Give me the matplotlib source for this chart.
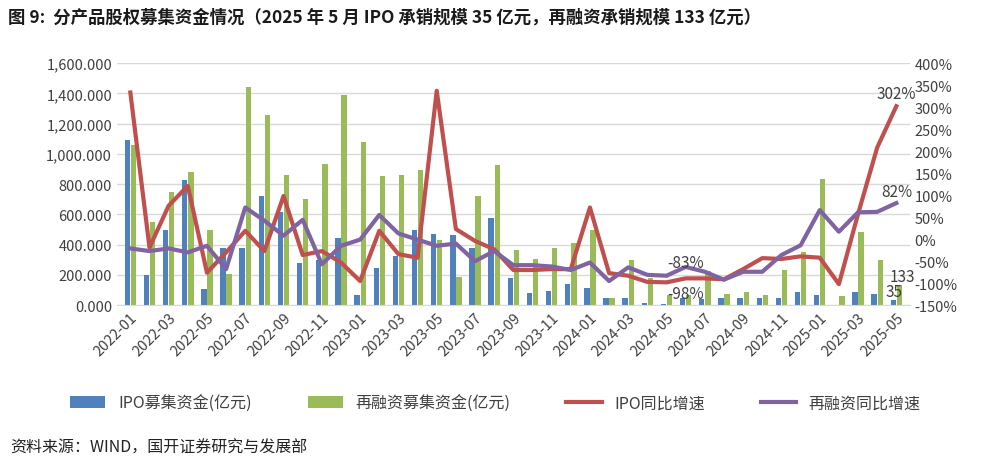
import matplotlib
matplotlib.use("Agg")
import matplotlib.pyplot as plt
import numpy as np

plt.rcParams['font.family'] = ['Noto Sans CJK SC', 'DejaVu Sans']

months = [f"{y}-{m:02d}" for y in (2022, 2023, 2024, 2025) for m in range(1, 13)][:41]
ipo = [1091, 200, 496, 828, 106, 375, 381, 723, 619, 278, 300, 441, 66, 245, 324, 496, 471, 465, 377, 573,
       178, 79, 91, 143, 112, 51, 51, 18, 7, 51, 40, 51, 51, 48, 48, 88, 66, 2, 88, 77, 35]
refi = [1060, 551, 749, 877, 500, 205, 1439, 1256, 859, 700, 932, 1390, 1080, 853, 859, 892, 430, 185, 723, 928,
        364, 304, 377, 410, 500, 51, 299, 177, 66, 66, 227, 77, 88, 66, 234, 355, 833, 60, 483, 298, 133]
ipo_yoy = [333, -19, 76, 121, -76, -30, 19, -27, 98, -36, -27, -53, -95, 19, -34, -42, 337, 23, -4, -23,
           -70, -70, -68, -68, 72, -77, -83, -97, -98, -89, -89, -91, -68, -43, -45, -39, -42, -102, 57, 208, 302]
refi_yoy = [-21, -27, -21, -30, -15, -68, 72, 42, 8, 44, -57, -15, -1, 55, 13, -1, -15, -10, -50, -27,
            -59, -59, -62, -70, -53, -95, -64, -81, -83, -63, -74, -92, -74, -74, -36, -14, 66, 17, 61, 62, 82]

fig = plt.figure(figsize=(9.91, 4.64), dpi=100)
ax = fig.add_axes([0.118, 0.34, 0.80, 0.522])
x = np.arange(len(months))
w = 0.28
ax.bar(x - w/2 - 0.02, ipo, w, color='#4F81BD', label='IPO募集资金(亿元)')
ax.bar(x + w/2 + 0.02, refi, w, color='#9BBB59', label='再融资募集资金(亿元)')
ax.set_ylim(0, 1600)
ax.set_yticks(range(0, 1601, 200))
ax.set_yticklabels([f"{v:,.3f}" for v in range(0, 1601, 200)])
ax.yaxis.grid(True, color='#D9D9D9', lw=1)
ax.set_axisbelow(True)
ax.set_xlim(-0.7, len(months) - 0.3)
ax.set_xticks(x[::2])
ax.set_xticklabels(months[::2], rotation=45, ha='right', rotation_mode='anchor')
for s in ['top', 'right', 'left']:
    ax.spines[s].set_visible(False)
ax.spines['bottom'].set_color('#D9D9D9')
ax.tick_params(length=0, labelsize=10.5, colors='#404040')

ax2 = ax.twinx()
ax2.plot(x, ipo_yoy, color='#C0504D', lw=3, label='IPO同比增速')
ax2.plot(x, refi_yoy, color='#8064A2', lw=3, label='再融资同比增速')
ax2.set_ylim(-150, 400)
ax2.set_yticks(range(-150, 401, 50))
ax2.set_yticklabels([f"{v}%" for v in range(-150, 401, 50)])
for s in ax2.spines.values():
    s.set_visible(False)
ax2.tick_params(length=0, labelsize=10.5, colors='#404040')

ax2.text(40, 312, '302%', ha='center', va='bottom', fontsize=11, color='#404040')
ax2.text(40, 90, '82%', ha='center', va='bottom', fontsize=11, color='#404040')
ax2.text(29, -73, '-83%', ha='center', va='bottom', fontsize=11, color='#404040')
ax2.text(29, -103, '-98%', ha='center', va='top', fontsize=11, color='#404040')
ax.text(40.3, 133, '133', ha='center', va='bottom', fontsize=11, color='#404040')
ax.text(39.9, 35, '35', ha='center', va='bottom', fontsize=11, color='#404040')

h1, l1 = ax.get_legend_handles_labels()
h2, l2 = ax2.get_legend_handles_labels()
fig.legend(h1 + h2, l1 + l2, loc='lower center', bbox_to_anchor=(0.5, 0.08), ncol=4, frameon=False,
           fontsize=11.5, handlelength=2.2, columnspacing=3.5, labelcolor='#404040')

fig.text(0.008, 0.963, '图 9:  分产品股权募集资金情况（2025 年 5 月 IPO 承销规模 35 亿元，再融资承销规模 133 亿元）',
         fontsize=12.5, fontweight='bold', color='#1a1a1a', va='center')
fig.text(0.01, 0.035, '资料来源：WIND，国开证券研究与发展部', fontsize=11.5, color='#222222', va='center')

fig.savefig('out.png', dpi=100)
